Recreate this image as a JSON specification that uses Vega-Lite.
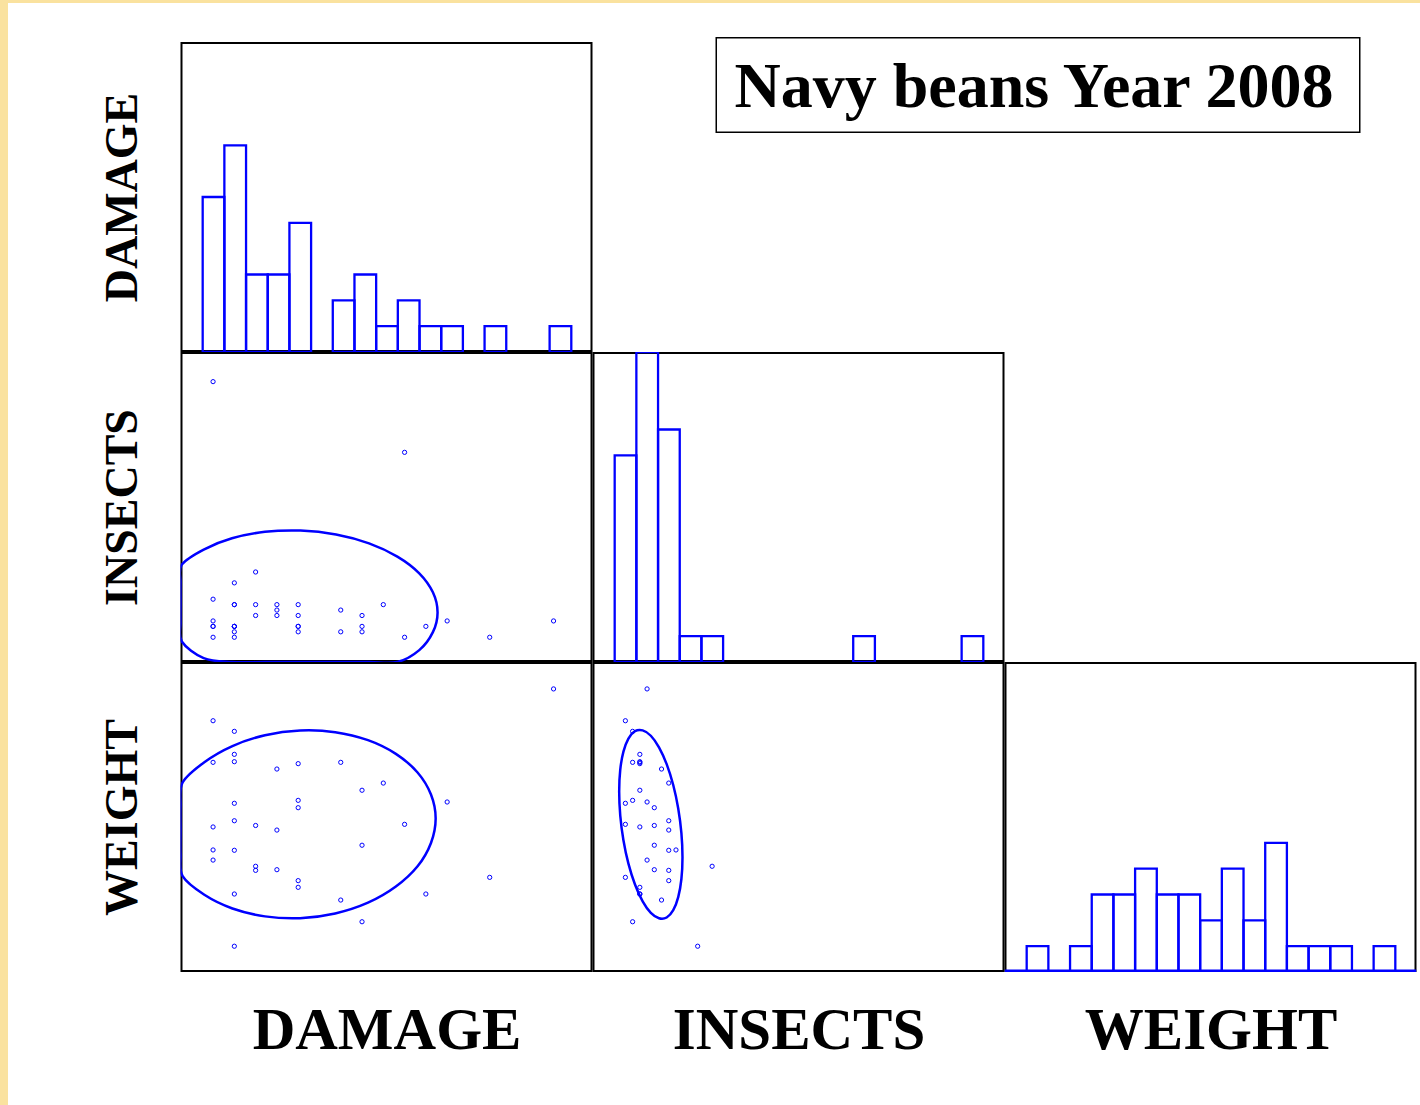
{
  "$schema": "https://vega.github.io/schema/vega-lite/v6.json",
  "padding": 0,
  "background": "white",
  "spacing": 0,
  "datasets": {
    "beans": [
      {"DAMAGE": 0, "INSECTS": 7, "WEIGHT": 7.48},
      {"DAMAGE": 0, "INSECTS": 3, "WEIGHT": 6.86},
      {"DAMAGE": 0, "INSECTS": 2, "WEIGHT": 8.89},
      {"DAMAGE": 0, "INSECTS": 2, "WEIGHT": 12.85},
      {"DAMAGE": 0, "INSECTS": 0, "WEIGHT": 15.40},
      {"DAMAGE": 0, "INSECTS": 47, "WEIGHT": null},
      {"DAMAGE": 1, "INSECTS": 1, "WEIGHT": 14.75},
      {"DAMAGE": 1, "INSECTS": 2, "WEIGHT": 13.34},
      {"DAMAGE": 1, "INSECTS": 2, "WEIGHT": 12.89},
      {"DAMAGE": 1, "INSECTS": 0, "WEIGHT": 10.34},
      {"DAMAGE": 1, "INSECTS": 6, "WEIGHT": 9.27},
      {"DAMAGE": 1, "INSECTS": 6, "WEIGHT": 7.46},
      {"DAMAGE": 1, "INSECTS": 2, "WEIGHT": 4.78},
      {"DAMAGE": 1, "INSECTS": 10, "WEIGHT": 1.58},
      {"DAMAGE": 2, "INSECTS": 4, "WEIGHT": 8.98},
      {"DAMAGE": 2, "INSECTS": 12, "WEIGHT": 6.48},
      {"DAMAGE": 2, "INSECTS": 6, "WEIGHT": 6.23},
      {"DAMAGE": 3, "INSECTS": 5, "WEIGHT": 12.44},
      {"DAMAGE": 3, "INSECTS": 6, "WEIGHT": 8.70},
      {"DAMAGE": 3, "INSECTS": 4, "WEIGHT": 6.27},
      {"DAMAGE": 4, "INSECTS": 2, "WEIGHT": 12.77},
      {"DAMAGE": 4, "INSECTS": 1, "WEIGHT": 10.52},
      {"DAMAGE": 4, "INSECTS": 4, "WEIGHT": 10.07},
      {"DAMAGE": 4, "INSECTS": 6, "WEIGHT": 5.60},
      {"DAMAGE": 4, "INSECTS": 2, "WEIGHT": 5.19},
      {"DAMAGE": 6, "INSECTS": 1, "WEIGHT": 12.85},
      {"DAMAGE": 6, "INSECTS": 5, "WEIGHT": 4.41},
      {"DAMAGE": 7, "INSECTS": 2, "WEIGHT": 11.14},
      {"DAMAGE": 7, "INSECTS": 4, "WEIGHT": 7.77},
      {"DAMAGE": 7, "INSECTS": 1, "WEIGHT": 3.08},
      {"DAMAGE": 8, "INSECTS": 6, "WEIGHT": 11.58},
      {"DAMAGE": 9, "INSECTS": 0, "WEIGHT": 9.05},
      {"DAMAGE": 9, "INSECTS": 34, "WEIGHT": null},
      {"DAMAGE": 10, "INSECTS": 2, "WEIGHT": 4.78},
      {"DAMAGE": 11, "INSECTS": 3, "WEIGHT": 10.42},
      {"DAMAGE": 13, "INSECTS": 0, "WEIGHT": 5.80},
      {"DAMAGE": 16, "INSECTS": 3, "WEIGHT": 17.35}
    ],
    "ellDI": [
      {"i": 0, "DAMAGE": 10.55, "INSECTS": 4.57},
      {"i": 1, "DAMAGE": 10.33, "INSECTS": 8.26},
      {"i": 2, "DAMAGE": 9.69, "INSECTS": 11.76},
      {"i": 3, "DAMAGE": 8.66, "INSECTS": 14.83},
      {"i": 4, "DAMAGE": 7.33, "INSECTS": 17.27},
      {"i": 5, "DAMAGE": 5.78, "INSECTS": 18.90},
      {"i": 6, "DAMAGE": 4.11, "INSECTS": 19.62},
      {"i": 7, "DAMAGE": 2.44, "INSECTS": 19.38},
      {"i": 8, "DAMAGE": 0.89, "INSECTS": 18.19},
      {"i": 9, "DAMAGE": -0.44, "INSECTS": 16.13},
      {"i": 10, "DAMAGE": -1.47, "INSECTS": 13.35},
      {"i": 11, "DAMAGE": -2.11, "INSECTS": 10.04},
      {"i": 12, "DAMAGE": -2.33, "INSECTS": 6.41},
      {"i": 13, "DAMAGE": -2.11, "INSECTS": 2.72},
      {"i": 14, "DAMAGE": -1.47, "INSECTS": -0.78},
      {"i": 15, "DAMAGE": -0.44, "INSECTS": -3.85},
      {"i": 16, "DAMAGE": 0.89, "INSECTS": -6.29},
      {"i": 17, "DAMAGE": 2.44, "INSECTS": -7.92},
      {"i": 18, "DAMAGE": 4.11, "INSECTS": -8.64},
      {"i": 19, "DAMAGE": 5.78, "INSECTS": -8.40},
      {"i": 20, "DAMAGE": 7.33, "INSECTS": -7.21},
      {"i": 21, "DAMAGE": 8.66, "INSECTS": -5.15},
      {"i": 22, "DAMAGE": 9.69, "INSECTS": -2.37},
      {"i": 23, "DAMAGE": 10.33, "INSECTS": 0.94}
    ],
    "ellDW": [
      {"i": 0, "DAMAGE": 10.46, "WEIGHT": 9.41},
      {"i": 1, "DAMAGE": 10.24, "WEIGHT": 10.88},
      {"i": 2, "DAMAGE": 9.61, "WEIGHT": 12.23},
      {"i": 3, "DAMAGE": 8.59, "WEIGHT": 13.37},
      {"i": 4, "DAMAGE": 7.28, "WEIGHT": 14.21},
      {"i": 5, "DAMAGE": 5.74, "WEIGHT": 14.70},
      {"i": 6, "DAMAGE": 4.09, "WEIGHT": 14.80},
      {"i": 7, "DAMAGE": 2.44, "WEIGHT": 14.51},
      {"i": 8, "DAMAGE": 0.91, "WEIGHT": 13.85},
      {"i": 9, "DAMAGE": -0.41, "WEIGHT": 12.86},
      {"i": 10, "DAMAGE": -1.43, "WEIGHT": 11.62},
      {"i": 11, "DAMAGE": -2.06, "WEIGHT": 10.19},
      {"i": 12, "DAMAGE": -2.28, "WEIGHT": 8.69},
      {"i": 13, "DAMAGE": -2.06, "WEIGHT": 7.22},
      {"i": 14, "DAMAGE": -1.43, "WEIGHT": 5.87},
      {"i": 15, "DAMAGE": -0.41, "WEIGHT": 4.73},
      {"i": 16, "DAMAGE": 0.91, "WEIGHT": 3.89},
      {"i": 17, "DAMAGE": 2.44, "WEIGHT": 3.41},
      {"i": 18, "DAMAGE": 4.09, "WEIGHT": 3.30},
      {"i": 19, "DAMAGE": 5.74, "WEIGHT": 3.59},
      {"i": 20, "DAMAGE": 7.28, "WEIGHT": 4.25},
      {"i": 21, "DAMAGE": 8.59, "WEIGHT": 5.24},
      {"i": 22, "DAMAGE": 9.61, "WEIGHT": 6.48},
      {"i": 23, "DAMAGE": 10.24, "WEIGHT": 7.91}
    ],
    "ellIW": [
      {"i": 0, "INSECTS": 7.90, "WEIGHT": 7.04},
      {"i": 1, "INSECTS": 7.75, "WEIGHT": 8.51},
      {"i": 2, "INSECTS": 7.31, "WEIGHT": 10.02},
      {"i": 3, "INSECTS": 6.62, "WEIGHT": 11.46},
      {"i": 4, "INSECTS": 5.71, "WEIGHT": 12.74},
      {"i": 5, "INSECTS": 4.65, "WEIGHT": 13.77},
      {"i": 6, "INSECTS": 3.52, "WEIGHT": 14.48},
      {"i": 7, "INSECTS": 2.39, "WEIGHT": 14.81},
      {"i": 8, "INSECTS": 1.33, "WEIGHT": 14.76},
      {"i": 9, "INSECTS": 0.42, "WEIGHT": 14.31},
      {"i": 10, "INSECTS": -0.27, "WEIGHT": 13.51},
      {"i": 11, "INSECTS": -0.71, "WEIGHT": 12.40},
      {"i": 12, "INSECTS": -0.86, "WEIGHT": 11.07},
      {"i": 13, "INSECTS": -0.71, "WEIGHT": 9.59},
      {"i": 14, "INSECTS": -0.27, "WEIGHT": 8.08},
      {"i": 15, "INSECTS": 0.42, "WEIGHT": 6.64},
      {"i": 16, "INSECTS": 1.33, "WEIGHT": 5.36},
      {"i": 17, "INSECTS": 2.39, "WEIGHT": 4.33},
      {"i": 18, "INSECTS": 3.52, "WEIGHT": 3.62},
      {"i": 19, "INSECTS": 4.65, "WEIGHT": 3.29},
      {"i": 20, "INSECTS": 5.71, "WEIGHT": 3.34},
      {"i": 21, "INSECTS": 6.62, "WEIGHT": 3.79},
      {"i": 22, "INSECTS": 7.31, "WEIGHT": 4.59},
      {"i": 23, "INSECTS": 7.75, "WEIGHT": 5.70}
    ]
  },
  "vconcat": [
    {
      "width": 1420, "height": 3,
      "view": {"stroke": null, "fill": "#FAE29F"},
      "data": {"values": [{}]},
      "mark": {"type": "point", "size": 0, "strokeWidth": 0, "filled": true, "opacity": 0},
      "encoding": {}
    },
    {
      "spacing": 91.5,
      "hconcat": [
        {
          "width": 8, "height": 1102,
          "view": {"stroke": null, "fill": "#FAE29F"},
          "data": {"values": [{}]},
          "mark": {"type": "point", "size": 0, "strokeWidth": 0, "filled": true, "opacity": 0},
          "encoding": {}
        },
        {
          "spacing": 0,
          "vconcat": [
            {
              "width": 1, "height": 34,
              "data": {"values": [{}]},
              "mark": {"type": "point", "size": 0, "strokeWidth": 0, "filled": true, "opacity": 0},
              "encoding": {}
            },
            {
              "spacing": 123,
              "hconcat": [
                {
                  "spacing": 0,
                  "vconcat": [
                    {
                      "width": 1, "height": 5,
                      "data": {"values": [{}]},
                      "mark": {"type": "point", "size": 0, "strokeWidth": 0, "filled": true, "opacity": 0},
                      "encoding": {}
                    },
                    {
                      "width": 412, "height": 310,
                      "layer": [
                        {
                          "data": {"values": [{}]},
                          "mark": {"type": "rect", "fill": "transparent", "stroke": "#000000", "strokeWidth": 4, "clip": true},
                          "encoding": {}
                        },
                        {
                          "data": {"name": "beans"},
                          "mark": {"type": "bar", "binSpacing": 0, "fill": "#0000ff", "fillOpacity": 0, "stroke": "#0000ff", "strokeWidth": 2.3, "clip": true},
                          "encoding": {
                            "x": {"field": "DAMAGE", "type": "quantitative", "bin": {"extent": [-1.53, 17.83], "step": 1.0189, "nice": false}, "scale": {"domain": [-1.53, 17.83], "nice": false, "zero": false}, "axis": null},
                            "y": {"aggregate": "count", "type": "quantitative", "scale": {"domain": [0, 12], "nice": false, "clamp": true}, "axis": {"title": "DAMAGE"}}
                          }
                        }
                      ]
                    }
                  ]
                },
                {
                  "width": 645, "height": 96,
                  "layer": [
                    {
                      "data": {"values": [{}]},
                      "mark": {"type": "rect", "fill": "transparent", "stroke": "#000000", "strokeWidth": 3, "clip": true},
                      "encoding": {}
                    },
                    {
                      "data": {"values": [{"t": "Navy beans Year 2008"}]},
                      "mark": {"type": "text", "font": "Liberation Serif", "fontWeight": "bold", "fontSize": 64, "color": "#000000", "align": "center", "baseline": "middle", "dx": -4, "dy": 3},
                      "encoding": {"text": {"field": "t", "type": "nominal"}}
                    }
                  ]
                }
              ]
            },
            {
              "spacing": 0,
              "hconcat": [
                {
                  "width": 412, "height": 310,
                  "layer": [
                    {
                      "data": {"values": [{}]},
                      "mark": {"type": "rect", "fill": "transparent", "stroke": "#000000", "strokeWidth": 4, "clip": true},
                      "encoding": {}
                    },
                    {
                      "data": {"name": "beans"},
                      "mark": {"type": "point", "shape": "circle", "filled": false, "color": "#0000ff", "size": 18, "strokeWidth": 1, "opacity": 1},
                      "encoding": {
                        "x": {"field": "DAMAGE", "type": "quantitative", "scale": {"domain": [-1.53, 17.83], "nice": false, "zero": false, "clamp": true}, "axis": null},
                        "y": {"field": "INSECTS", "type": "quantitative", "scale": {"domain": [-4.55, 52.45], "nice": false, "zero": false, "clamp": true}, "axis": {"title": "INSECTS"}}
                      }
                    },
                    {
                      "data": {"name": "ellDI"},
                      "mark": {"type": "line", "interpolate": "cardinal-closed", "color": "#0000ff", "strokeWidth": 2.5, "clip": true},
                      "encoding": {
                        "x": {"field": "DAMAGE", "type": "quantitative", "scale": {"domain": [-1.53, 17.83], "nice": false, "zero": false, "clamp": true}, "axis": null},
                        "y": {"field": "INSECTS", "type": "quantitative", "scale": {"domain": [-4.55, 52.45], "nice": false, "zero": false, "clamp": true}, "axis": {"title": "INSECTS"}},
                        "order": {"field": "i", "type": "quantitative"}
                      }
                    }
                  ]
                },
                {
                  "width": 412, "height": 310,
                  "layer": [
                    {
                      "data": {"values": [{}]},
                      "mark": {"type": "rect", "fill": "transparent", "stroke": "#000000", "strokeWidth": 4, "clip": true},
                      "encoding": {}
                    },
                    {
                      "data": {"name": "beans"},
                      "mark": {"type": "bar", "binSpacing": 0, "fill": "#0000ff", "fillOpacity": 0, "stroke": "#0000ff", "strokeWidth": 2.3, "clip": true},
                      "encoding": {
                        "x": {"field": "INSECTS", "type": "quantitative", "bin": {"extent": [-4.55, 52.45], "step": 3, "nice": false}, "scale": {"domain": [-4.55, 52.45], "nice": false, "zero": false}, "axis": null},
                        "y": {"aggregate": "count", "type": "quantitative", "scale": {"domain": [0, 12], "nice": false, "clamp": true}, "axis": null}
                      }
                    }
                  ]
                }
              ]
            },
            {
              "spacing": 0,
              "hconcat": [
                {
                  "width": 412, "height": 310,
                  "layer": [
                    {
                      "data": {"values": [{}]},
                      "mark": {"type": "rect", "fill": "transparent", "stroke": "#000000", "strokeWidth": 4, "clip": true},
                      "encoding": {}
                    },
                    {
                      "data": {"name": "beans"},
                      "mark": {"type": "point", "shape": "circle", "filled": false, "color": "#0000ff", "size": 18, "strokeWidth": 1, "opacity": 1},
                      "encoding": {
                        "x": {"field": "DAMAGE", "type": "quantitative", "scale": {"domain": [-1.53, 17.83], "nice": false, "zero": false, "clamp": true}, "axis": {"title": "DAMAGE"}},
                        "y": {"field": "WEIGHT", "type": "quantitative", "scale": {"domain": [0, 19], "nice": false, "zero": false, "clamp": true}, "axis": {"title": "WEIGHT"}}
                      }
                    },
                    {
                      "data": {"name": "ellDW"},
                      "mark": {"type": "line", "interpolate": "cardinal-closed", "color": "#0000ff", "strokeWidth": 2.5, "clip": true},
                      "encoding": {
                        "x": {"field": "DAMAGE", "type": "quantitative", "scale": {"domain": [-1.53, 17.83], "nice": false, "zero": false, "clamp": true}, "axis": {"title": "DAMAGE"}},
                        "y": {"field": "WEIGHT", "type": "quantitative", "scale": {"domain": [0, 19], "nice": false, "zero": false, "clamp": true}, "axis": {"title": "WEIGHT"}},
                        "order": {"field": "i", "type": "quantitative"}
                      }
                    }
                  ]
                },
                {
                  "width": 412, "height": 310,
                  "layer": [
                    {
                      "data": {"values": [{}]},
                      "mark": {"type": "rect", "fill": "transparent", "stroke": "#000000", "strokeWidth": 4, "clip": true},
                      "encoding": {}
                    },
                    {
                      "data": {"name": "beans"},
                      "mark": {"type": "point", "shape": "circle", "filled": false, "color": "#0000ff", "size": 18, "strokeWidth": 1, "opacity": 1},
                      "encoding": {
                        "x": {"field": "INSECTS", "type": "quantitative", "scale": {"domain": [-4.55, 52.45], "nice": false, "zero": false, "clamp": true}, "axis": {"title": "INSECTS"}},
                        "y": {"field": "WEIGHT", "type": "quantitative", "scale": {"domain": [0, 19], "nice": false, "zero": false, "clamp": true}, "axis": null}
                      }
                    },
                    {
                      "data": {"name": "ellIW"},
                      "mark": {"type": "line", "interpolate": "cardinal-closed", "color": "#0000ff", "strokeWidth": 2.5, "clip": true},
                      "encoding": {
                        "x": {"field": "INSECTS", "type": "quantitative", "scale": {"domain": [-4.55, 52.45], "nice": false, "zero": false, "clamp": true}, "axis": {"title": "INSECTS"}},
                        "y": {"field": "WEIGHT", "type": "quantitative", "scale": {"domain": [0, 19], "nice": false, "zero": false, "clamp": true}, "axis": null},
                        "order": {"field": "i", "type": "quantitative"}
                      }
                    }
                  ]
                },
                {
                  "width": 412, "height": 310,
                  "layer": [
                    {
                      "data": {"values": [{}]},
                      "mark": {"type": "rect", "fill": "transparent", "stroke": "#000000", "strokeWidth": 4, "clip": true},
                      "encoding": {}
                    },
                    {
                      "data": {"name": "beans"},
                      "transform": [{"filter": "datum.WEIGHT != null"}],
                      "mark": {"type": "bar", "binSpacing": 0, "fill": "#0000ff", "fillOpacity": 0, "stroke": "#0000ff", "strokeWidth": 2.3, "clip": true},
                      "encoding": {
                        "x": {"field": "WEIGHT", "type": "quantitative", "bin": {"extent": [0, 19], "step": 1, "nice": false}, "scale": {"domain": [0, 19], "nice": false, "zero": false}, "axis": {"title": "WEIGHT"}},
                        "y": {"aggregate": "count", "type": "quantitative", "scale": {"domain": [0, 12], "nice": false, "clamp": true}, "axis": null}
                      }
                    },
                    {
                      "data": {"values": [{}]},
                      "mark": {"type": "rule", "color": "#0000ff", "strokeWidth": 5, "clip": true},
                      "encoding": {
                        "y": {"datum": 0, "type": "quantitative", "scale": {"domain": [0, 12], "nice": false, "clamp": true}, "axis": null}
                      }
                    }
                  ]
                }
              ]
            }
          ]
        }
      ]
    }
  ],
  "config": {
    "view": {"stroke": null},
    "axis": {"labels": false, "ticks": false, "domain": false, "grid": false, "titleFont": "Liberation Serif", "titleFontWeight": "bold", "titleColor": "#000000"},
    "axisY": {"titleFontSize": 46, "titlePadding": 34},
    "axisX": {"titleFontSize": 59, "titlePadding": 29}
  }
}
